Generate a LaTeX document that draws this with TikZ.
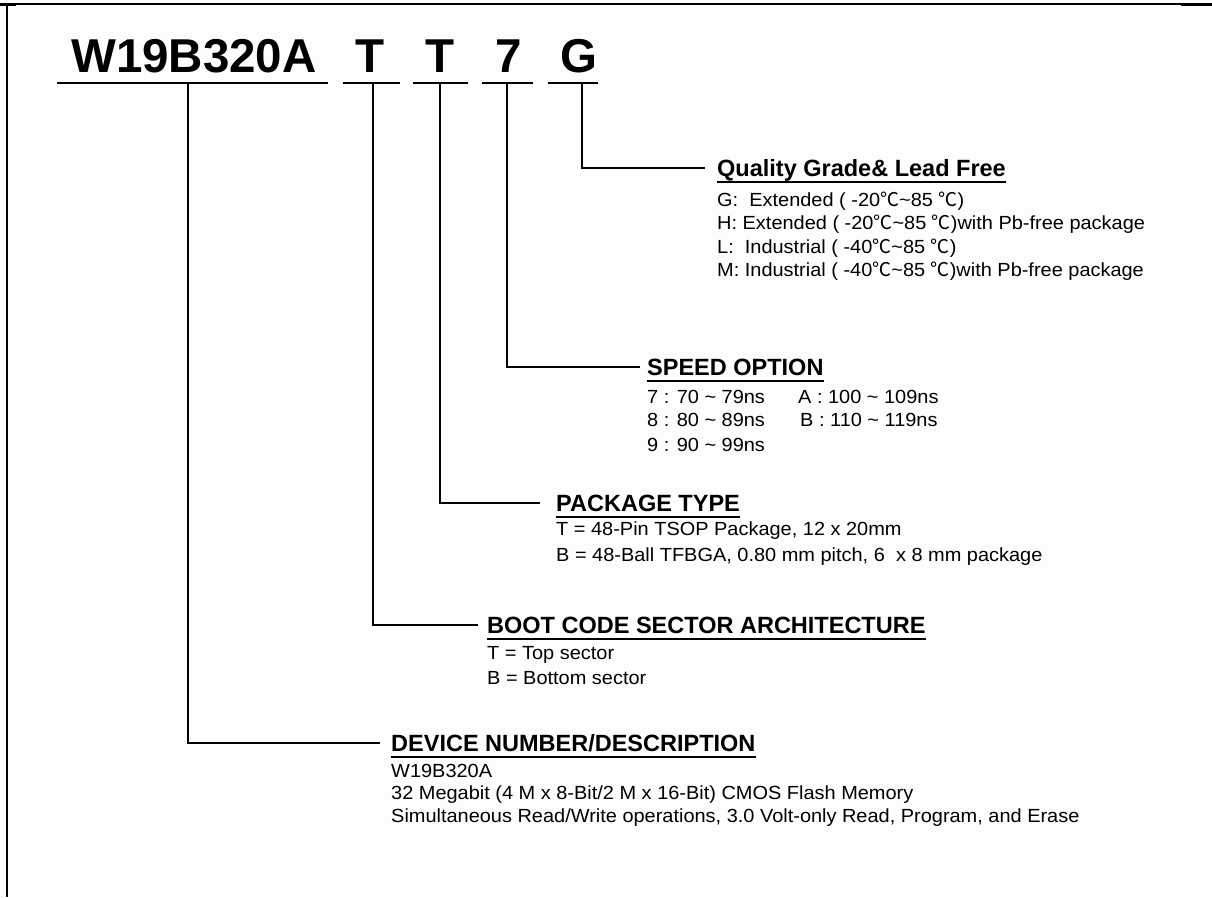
\documentclass[tikz,border=0pt]{standalone}
\usepackage{fontspec}
\setmainfont{Liberation Sans}
\newfontfamily\bodyfont[FakeStretch=1.05]{Liberation Sans}
\newfontfamily\cjkfont{Noto Sans CJK SC}
\newcommand{\degC}{{\cjkfont ℃}}
\newcommand{\tld}{\textasciitilde}
\begin{document}
\begin{tikzpicture}[x=1pt,y=-1pt,
  frame/.style={line width=1.6pt},
  title/.style={font=\fontsize{47.5}{50}\selectfont\bfseries, inner sep=0pt, anchor=base},
  uline/.style={line width=1.3pt},
  hdr/.style={font=\fontsize{23.5}{26}\selectfont\bfseries, inner sep=0pt, anchor=base west, text height=17pt, text depth=0pt},
  hline/.style={line width=2pt},
  body/.style={font=\bodyfont\fontsize{19}{22}\selectfont, inner sep=0pt, anchor=base west},
  conn/.style={line width=2.8pt, line join=miter}]
\useasboundingbox (0,0) rectangle (1212,897);
% faint background and frame
\fill[black!0.7] (22,14) rectangle (1182,870);
\draw[frame] (6,4) -- (1212,4);
\draw[line width=3pt] (0,4) -- (16,4);
\draw[line width=3pt] (1181,4.5) -- (1212,4.5);
\draw[line width=2pt] (7,4) -- (7,897);
% part number
\node[title, anchor=base west] (pn) at (71,72) {W19B320A};
\node[title] (pT1) at (370,72) {T};
\node[title] (pT2) at (440,72) {T};
\node[title] (p7) at (509,72) {7};
\node[title] (pG) at (579,72) {G};
\draw[uline] (57,83) -- (328,83);
\draw[uline] (343,83) -- (400,83);
\draw[uline] (413,83) -- (468,83);
\draw[uline] (482,83) -- (533,83);
\draw[uline] (548,83) -- (598,83);
\coordinate (tW) at (188,83);
\coordinate (tT1) at (373,83);
\coordinate (tT2) at (440,83);
\coordinate (t7) at (507,83);
\coordinate (tG) at (582,83);
% headers
\node[hdr] (hG) at (717,176.5) {Quality Grade\& Lead Free};
\node[hdr] (h7) at (647,375.5) {SPEED OPTION};
\node[hdr] (hT2) at (556,511.5) {PACKAGE TYPE};
\node[hdr] (hT1) at (487,633.5) {BOOT CODE SECTOR ARCHITECTURE};
\node[hdr] (hW) at (391,751.5) {DEVICE NUMBER/DESCRIPTION};
\foreach \h in {hG,h7,hT2,hT1,hW}{
  \draw[hline] ([yshift=-5pt]\h.south west) -- ([yshift=-5pt]\h.south east);
}
% connectors
\draw[conn] (tG) |- ([xshift=-12pt]hG.west);
\draw[conn] (t7) |- ([xshift=-7pt]h7.west);
\draw[conn] (tT2) |- ([xshift=-16pt]hT2.west);
\draw[conn] (tT1) |- ([xshift=-9pt]hT1.west);
\draw[conn] (tW) |- ([xshift=-11pt]hW.west);
% quality grade
\node[body] (q1) at (717,206) {G:\ \ Extended ( -20\degC\tld 85 \degC)};
\node[body] (q2) at (717,229) {H: Extended ( -20\degC\tld 85 \degC)with Pb-free package};
\node[body] (q3) at (717,253) {L:\ \ Industrial ( -40\degC\tld 85 \degC)};
\node[body] (q4) at (717,276) {M: Industrial ( -40\degC\tld 85 \degC)with Pb-free package};
% speed
\node[body] (s1) at (647,403) {7 : 70 \tld\ 79ns};
\node[body] (s2) at (647,426) {8 : 80 \tld\ 89ns};
\node[body] (s3) at (647,451) {9 : 90 \tld\ 99ns};
\node[body] (s4) at (798,403) {A : 100 \tld\ 109ns};
\node[body] (s5) at (800,426) {B : 110 \tld\ 119ns};
% package
\node[body] (k1) at (556,535) {T = 48-Pin TSOP Package, 12 x 20mm};
\node[body] (k2) at (556,561) {B = 48-Ball TFBGA, 0.80 mm pitch, 6\ \ x 8 mm package};
% boot
\node[body] (b1) at (487,659) {T = Top sector};
\node[body] (b2) at (487,684) {B = Bottom sector};
% device
\node[body] (d1) at (391,777) {W19B320A};
\node[body] (d2) at (391,799) {32 Megabit (4 M x 8-Bit/2 M x 16-Bit) CMOS Flash Memory};
\node[body] (d3) at (391,822) {Simultaneous Read/Write operations, 3.0 Volt-only Read, Program, and Erase};
\end{tikzpicture}
\end{document}
